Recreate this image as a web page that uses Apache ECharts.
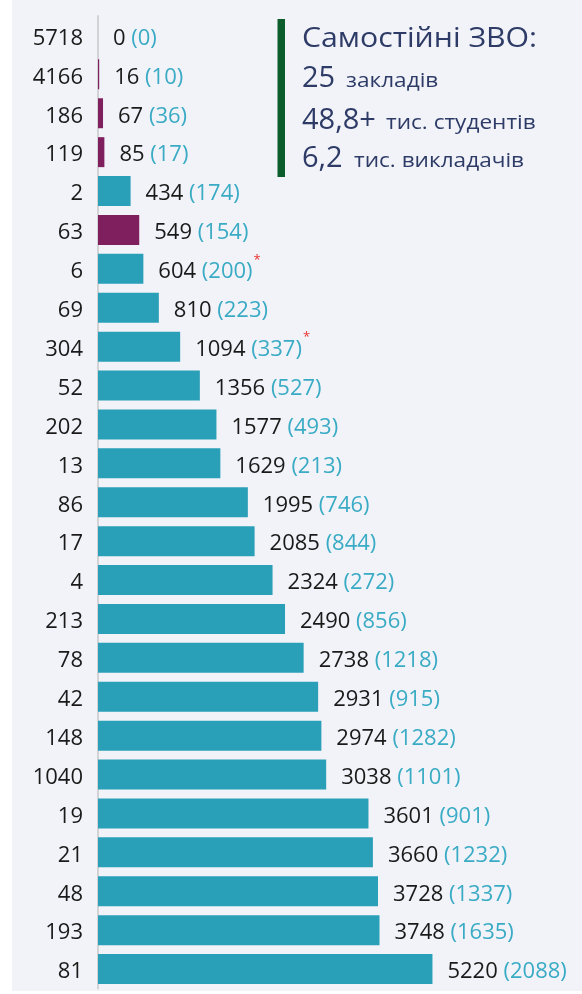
<!DOCTYPE html>
<html><head><meta charset="utf-8">
<script src="https://cdn.jsdelivr.net/npm/echarts@6/dist/echarts.min.js"></script>
<style>html,body{margin:0;padding:0;background:#fff}#c{width:582px;height:994px}</style>
</head><body><div id="c"></div>
<script>
// ---- data ----
const categories = ['5718','4166','186','119','2','63','6','69','304','52','202','13','86','17','4','213','78','42','148','1040','19','21','48','193','81'];
const values = [0,16,67,85,434,549,604,810,1094,1356,1577,1629,1995,2085,2324,2490,2738,2931,2974,3038,3601,3660,3728,3748,5220];
const secondary = [0,10,36,17,174,154,200,223,337,527,493,213,746,844,272,856,1218,915,1282,1101,901,1232,1337,1635,2088];
const highlighted = [false,true,true,true,false,true,false,false,false,false,false,false,false,false,false,false,false,false,false,false,false,false,false,false,false];
const footnoted = [false,false,false,false,false,false,true,false,true,false,false,false,false,false,false,false,false,false,false,false,false,false,false,false,false];
const summaryTitle = 'Самостійні ЗВО:';
const summaryNumbers = ['25','48,8+','6,2'];
const summaryUnits = ['закладів','тис. студентів','тис. викладачів'];

const FONT = '"Open Sans", Lato, sans-serif';
const TEAL = '#2a9fb8', PURPLE = '#801f5e', NAVY = '#2d3b66';

// layout of the summary block (pixels)
const numY = [79, 120.6, 159];
const unitY = [81.4, 123, 161.4];
const unitX = [346, 386, 354];

const chart = echarts.init(document.getElementById('c'));
chart.setOption({
  backgroundColor: '#fff',
  animation: false,
  graphic: [
    {type:'rect', shape:{x:12,y:0,width:570,height:991}, style:{fill:'#f2f3f9'}, z:-10, silent:true},
    {type:'rect', shape:{x:277.5,y:19,width:7.5,height:158}, style:{fill:'#0b5e2b'}, z:10},
    {type:'text', x:302, y:39.3, scaleX:1.08, z:10, style:{text:summaryTitle, font:'28px '+FONT, fill:NAVY, verticalAlign:'middle', align:'left'}},
    ...summaryNumbers.map((t,i)=>({type:'text', x:302, y:numY[i], z:10,
      style:{text:t, font:'29px '+FONT, fill:NAVY, verticalAlign:'middle', align:'left'}})),
    ...summaryUnits.map((t,i)=>({type:'text', x:unitX[i], y:unitY[i], scaleX:1.13, z:10,
      style:{text:t, font:'20px '+FONT, fill:NAVY, verticalAlign:'middle', align:'left'}}))
  ],
  grid: {left:98, right:121, top:16, bottom:5.5, containLabel:false},
  xAxis: {type:'value', min:0, max:5600, show:false,
    breaks:[{start:3760, end:4527, gap:0}],
    breakArea:{show:false},
    splitLine:{show:false}},
  yAxis: {type:'category', data:categories, inverse:true,
    axisLine:{show:true, lineStyle:{color:'#d3d3d6', width:2}},
    axisTick:{show:false},
    axisLabel:{margin:15, formatter:(v)=>'{a|'+v+'}',
      rich:{a:{fontSize:22, fontFamily:FONT, color:'#1a1a1a', padding:[6,0,0,0]}}}},
  series: [{
    type:'bar', barCategoryGap:'23%',
    data: values.map((v,i)=>({value:v, itemStyle:{color: highlighted[i]?PURPLE:TEAL}})),
    label:{show:true, position:'right', distance:15,
      formatter:(p)=>{const i=p.dataIndex; return '{v|'+values[i]+' }{p|('+secondary[i]+')}'+(footnoted[i]?'{s|*}':'');},
      rich:{
        v:{fontSize:22, fontFamily:FONT, color:'#1a1a1a', padding:[6,0,0,0]},
        p:{fontSize:22, fontFamily:FONT, color:'#3aabc4', padding:[6,0,0,0]},
        s:{fontSize:13, fontFamily:FONT, color:'#e8322f', padding:[0,0,18,1]}
      }}
  }]
});
</script></body></html>
